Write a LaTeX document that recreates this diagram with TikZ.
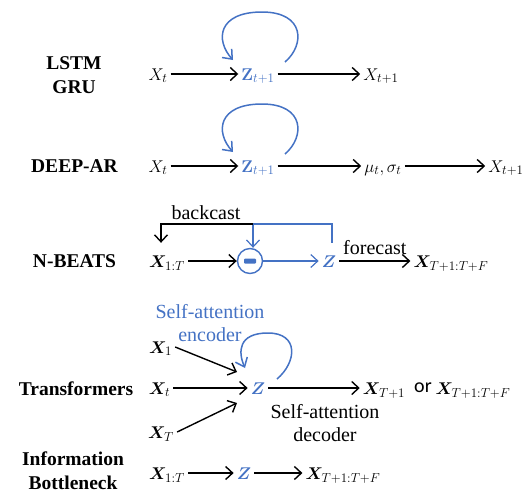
\documentclass[tikz,border=0pt]{standalone}
\usepackage{fix-cm}
\usepackage{amsmath,bm}
\usepackage[no-math]{fontspec}
\setmainfont{Liberation Serif}
\newfontfamily\orfont{Carlito}
\usetikzlibrary{arrows.meta}
\definecolor{zblue}{HTML}{4472C4}
\DeclareMathSizes{17}{17}{13}{10}

\tikzset{
  lab/.style={font=\fontsize{19.5}{24}\selectfont\bfseries, align=center},
  txt/.style={font=\fontsize{20}{23}\selectfont, align=center, inner sep=0pt},
  mth/.style={font=\fontsize{17}{20}\selectfont, inner xsep=3pt, inner ysep=2pt,
              text height=15pt, text depth=3pt},
  arr/.style={line width=1.4pt, -{Straight Barb[length=7pt,width=13pt]}},
  barr/.style={arr, zblue, line width=1.2pt},
  bline/.style={zblue, line width=1.2pt},
  loopy/.style={zblue, line width=1.5pt, -{Straight Barb[length=8pt,width=13pt]}},
}

% recurrent self-loop above a latent node
\newcommand\selfloop[1]{%
  \draw[loopy] ([shift={(27,-12)}]#1.center)
    .. controls ([shift={(47,-29)}]#1.center) and ([shift={(47,-62)}]#1.center)
    .. ([shift={(4,-62)}]#1.center)
    .. controls ([shift={(-40,-62)}]#1.center) and ([shift={(-43,-34)}]#1.center)
    .. ([shift={(-25,-14)}]#1.center);}

\begin{document}
\begin{tikzpicture}[x=1pt,y=-1pt]
\useasboundingbox (0,0) rectangle (527,493);

% ---- LSTM / GRU ----
\node[lab] (lab1) at (74,75) {LSTM\\GRU};
\node[mth] (x1) at (158,74) {$X_t$};
\node[mth] (z1) at (258,74) {$\color{zblue}\mathbf{Z}_{t+1}$};
\node[mth] (y1) at (381,74) {$X_{t+1}$};
\draw[arr] (x1) -- (z1);
\draw[arr] (z1) -- (y1);
\selfloop{z1}

% ---- DEEP-AR ----
\node[lab] (lab2) at (74.5,166) {DEEP-AR};
\node[mth] (x2) at (158,166) {$X_t$};
\node[mth] (z2) at (258,166) {$\color{zblue}\mathbf{Z}_{t+1}$};
\node[mth] (p2) at (383,166) {$\mu_t,\sigma_t$};
\node[mth] (y2) at (506,166) {$X_{t+1}$};
\draw[arr] (x2) -- (z2);
\draw[arr] (z2) -- (p2);
\draw[arr] (p2) -- (y2);
\selfloop{z2}

% ---- N-BEATS ----
\node[lab] (lab3) at (74.5,261) {N-BEATS};
\node[mth] (x3) at (167,261) {$\bm{X}_{1{:}T}$};
\node[circle, draw=zblue, line width=1.4pt, minimum size=25pt, inner sep=0pt] (minus) at (250,261) {};
\fill[zblue, rounded corners=1pt] ([shift={(-6,-2.5)}]minus.center) rectangle ([shift={(6,2.5)}]minus.center);
\node[mth] (z3) at (329,261) {$\color{zblue}\bm{Z}$};
\node[mth] (y3) at (451,261) {$\bm{X}_{T+1{:}T+F}$};
\draw[arr] (x3) -- (minus);
\draw[barr] (minus) -- (z3);
\draw[arr] (z3) -- node[txt, above=6pt] {forecast} (y3);
\coordinate (bk) at (253,224);
\draw[bline] ([xshift=3pt,yshift=7pt]z3.north) |- (bk);
\draw[barr] (bk) -- (bk |- minus.north);
\draw[arr] (bk) -| ([xshift=-6pt,yshift=7pt]x3.north);
\node[txt] (bc) at (206,213) {backcast};

% ---- Transformers ----
\node[lab] (lab4) at (76,389) {Transformers};
\node[txt, text=zblue] (enc) at (210,323) {Self-attention\\encoder};
\node[mth] (x41) at (160.5,347) {$\bm{X}_1$};
\node[mth] (x4t) at (159.5,388) {$\bm{X}_t$};
\node[mth] (x4T) at (161,432) {$\bm{X}_T$};
\node[mth] (z4) at (258,388) {$\color{zblue}\bm{Z}$};
\node[mth] (y4) at (384,388) {$\bm{X}_{T+1}$};
\node[txt, font=\fontsize{20}{23}\selectfont\orfont] (or) at (423,388) {or};
\node[mth] (y4b) at (473,388) {$\bm{X}_{T+1{:}T+F}$};
\node[txt] (dec) at (325,423.5) {Self-attention\\decoder};
\draw[arr] (x41.east) -- ([shift={(-21,-16)}]z4.center);
\draw[arr] (x4t) -- (z4);
\draw[arr] (x4T.east) -- ([shift={(-21,15)}]z4.center);
\draw[arr] (z4) -- (y4);
\draw[loopy] ([shift={(19,-9)}]z4.center)
  .. controls ([shift={(39,-26)}]z4.center) and ([shift={(41,-55)}]z4.center)
  .. ([shift={(10,-55)}]z4.center)
  .. controls ([shift={(-20,-55)}]z4.center) and ([shift={(-20,-36)}]z4.center)
  .. ([shift={(-13,-20)}]z4.center);

% ---- Information Bottleneck ----
\node[lab] (lab5) at (73,471) {Information\\Bottleneck};
\node[mth] (x5) at (167,473) {$\bm{X}_{1{:}T}$};
\node[mth] (z5) at (244,473) {$\color{zblue}\bm{Z}$};
\node[mth] (y5) at (343,473) {$\bm{X}_{T+1{:}T+F}$};
\draw[arr] (x5) -- (z5);
\draw[arr] (z5) -- (y5);
\end{tikzpicture}
\end{document}
